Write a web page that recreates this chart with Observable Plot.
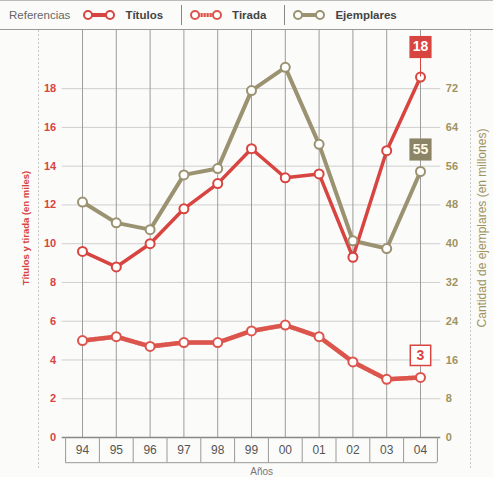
<!DOCTYPE html>
<html>
<head>
<meta charset="utf-8">
<script src="https://cdn.jsdelivr.net/npm/d3@7"></script>
<script src="https://cdn.jsdelivr.net/npm/@observablehq/plot@0.6"></script>
<style>
  html, body { margin: 0; padding: 0; background: #fbfbfa; }
  body { width: 493px; height: 477px; overflow: hidden; font-family: "Liberation Sans", Arial, sans-serif; }
  #legend { height: 30px; box-sizing: border-box; border-top: 1px solid #bbb; border-bottom: 1px solid #999;
            display: flex; align-items: center; font-size: 11.5px; color: #444; padding-left: 9px; }
  #legend .item { display: flex; align-items: center; }
  #legend .lab { font-weight: bold; color: #444; margin-left: 9px; }
  #legend .sep { width: 1px; height: 20px; background: #888; margin: 0 7px 0 18px; }
  #legend svg { display: block; }
  #chart svg { display: block; }
</style>
</head>
<body>
<div id="legend"></div>
<div id="chart"></div>
<script>
const years = ["94", "95", "96", "97", "98", "99", "00", "01", "02", "03", "04"];
const titulos = [9.6, 8.8, 10.0, 11.8, 13.1, 14.9, 13.4, 13.6, 9.3, 14.8, 18.6];
const tirada = [5.0, 5.2, 4.7, 4.9, 4.9, 5.5, 5.8, 5.2, 3.9, 3.0, 3.1];
const ejemplares = [48.6, 44.3, 42.9, 54.2, 55.5, 71.6, 76.4, 60.5, 40.6, 39.0, 54.9];
const leftTicks = [0, 2, 4, 6, 8, 10, 12, 14, 16, 18];
const rightTicks = [0, 8, 16, 24, 32, 40, 48, 56, 64, 72];
const seriesNames = ["Títulos", "Tirada", "Ejemplares"];
const endLabels = ["18", "3", "55"];

const RED = "#d8443f";
const RED2 = "#dc554d";
const PINK = "#efa59d";
const OLIVE = "#9a9270";
const OLIVE_TXT = "#a0935f";

// legend
const legend = document.getElementById("legend");
const refs = document.createElement("span");
refs.textContent = "Referencias";
refs.style.color = "#666";
refs.style.marginRight = "12px";
legend.appendChild(refs);
const styles = [
  {stroke: RED, dash: null},
  {stroke: RED2, dash: "1.5,1.5"},
  {stroke: OLIVE, dash: null}
];
seriesNames.forEach((name, k) => {
  if (k > 0) { const s = document.createElement("span"); s.className = "sep"; legend.appendChild(s); }
  const it = document.createElement("span");
  it.className = "item";
  const st = styles[k];
  const base = st.dash ? `<line x1="6" y1="6" x2="28" y2="6" stroke="${PINK}" stroke-width="4"/>` : "";
  it.innerHTML = `<svg width="34" height="12">${base}<line x1="6" y1="6" x2="28" y2="6" stroke="${st.stroke}" stroke-width="4" ${st.dash ? `stroke-dasharray="${st.dash}"` : ""}/>` +
    `<circle cx="6" cy="6" r="4" fill="#fff" stroke="${st.stroke}" stroke-width="2"/><circle cx="28" cy="6" r="4" fill="#fff" stroke="${st.stroke}" stroke-width="2"/></svg>` +
    `<span class="lab">${name}</span>`;
  legend.appendChild(it);
});

const idx = years.map((_, i) => i);
const half = d3.range(-0.5, 11, 1);
const rowsTit = idx.map(i => ({i, v: titulos[i]}));
const rowsTir = idx.map(i => ({i, v: tirada[i]}));
const rowsEje = idx.map(i => ({i, v: ejemplares[i] / 4}));
const last = years.length - 1;

const chart = Plot.plot({
  width: 493,
  height: 446,
  marginLeft: 82,
  marginRight: 73,
  marginTop: 0,
  marginBottom: 39,
  x: {type: "linear", domain: [0, 10], axis: null},
  y: {type: "linear", domain: [0, 21], axis: null},
  style: {fontFamily: "'Liberation Sans', Arial, sans-serif", background: "transparent", overflow: "visible"},
  marks: [
    // fold lines
    Plot.ruleX([-1.3, 11.48], {y1: -1.6, y2: 21, stroke: "#c8c8c8", strokeDasharray: "2,2"}),
    // horizontal grid
    Plot.ruleY(leftTicks.slice(1), {x1: -0.6, x2: 10.6, stroke: "#cfcfcf"}),
    // vertical grid
    Plot.ruleX(idx, {y1: 0, y2: 21, stroke: "#9d9d9d"}),
    // baseline
    Plot.ruleY([0], {x1: -0.6, x2: 10.6, stroke: "#888", strokeWidth: 1.5}),
    // year boxes
    Plot.ruleX(half, {y1: 0, y2: -1.3, stroke: "#999"}),
    Plot.ruleY([-1.3], {x1: -0.5, x2: 10.5, stroke: "#999"}),
    Plot.text(idx, {x: d => d, y: -0.65, text: d => years[d], fontSize: 12, fill: "#555"}),
    Plot.text(["Años"], {x: 5.3, y: -1.3, dy: 9, fontSize: 10, fill: "#777"}),
    // left axis
    Plot.text(leftTicks, {x: -0.6, y: d => d, dx: -6, text: d => String(d), textAnchor: "end", fill: RED, fontWeight: "bold", fontSize: 11}),
    Plot.text(["Títulos y tirada (en miles)"], {frameAnchor: "left", textAnchor: "middle", dx: -57, dy: -6, rotate: -90, fill: RED, fontWeight: "bold", fontSize: 9.5}),
    // right axis
    Plot.text(rightTicks, {x: 10.6, y: d => d / 4, dx: 5, text: d => String(d), textAnchor: "start", fill: OLIVE_TXT, fontWeight: "bold", fontSize: 11}),
    Plot.text(["Cantidad de ejemplares (en millones)"], {frameAnchor: "right", textAnchor: "middle", dx: 62, dy: -6, rotate: -90, fill: OLIVE_TXT, fontSize: 12}),
    // series
    Plot.line(rowsTir, {x: "i", y: "v", stroke: PINK, strokeWidth: 4.5}),
    Plot.line(rowsTir, {x: "i", y: "v", stroke: RED2, strokeWidth: 4.5, strokeDasharray: "1.5,1.5"}),
    Plot.line(rowsEje, {x: "i", y: "v", stroke: OLIVE, strokeWidth: 4}),
    Plot.line(rowsTit, {x: "i", y: "v", stroke: RED, strokeWidth: 3.5}),
    Plot.dot(rowsTir, {x: "i", y: "v", r: 4.5, fill: "#fff", stroke: RED2, strokeWidth: 2}),
    Plot.dot(rowsEje, {x: "i", y: "v", r: 4.5, fill: "#fff", stroke: OLIVE, strokeWidth: 2}),
    Plot.dot(rowsTit, {x: "i", y: "v", r: 4.5, fill: "#fff", stroke: RED, strokeWidth: 2}),
    // end labels
    Plot.ruleX([last], {y1: titulos[last], y2: titulos[last] + 1.3, stroke: RED, strokeWidth: 1}),
    Plot.dot([last], {x: d => d, y: titulos[last], dy: -30, symbol: "square", r: 12.5, fill: RED, stroke: "none"}),
    Plot.text([last], {x: d => d, y: titulos[last], dy: -30, text: () => endLabels[0], fill: "#fff", fontWeight: "bold", fontSize: 14}),
    Plot.dot([last], {x: d => d, y: ejemplares[last] / 4, dy: -22, symbol: "square", r: 12.5, fill: "#8c8466", stroke: "none"}),
    Plot.text([last], {x: d => d, y: ejemplares[last] / 4, dy: -22, text: () => endLabels[2], fill: "#fffbe8", fontWeight: "bold", fontSize: 14}),
    Plot.dot([last], {x: d => d, y: tirada[last], dy: -22, symbol: "square", r: 11.5, fill: "#fff", stroke: RED, strokeWidth: 1.5}),
    Plot.text([last], {x: d => d, y: tirada[last], dy: -22, text: () => endLabels[1], fill: RED, fontWeight: "bold", fontSize: 14})
  ]
});
document.getElementById("chart").appendChild(chart);
</script>
</body>
</html>
